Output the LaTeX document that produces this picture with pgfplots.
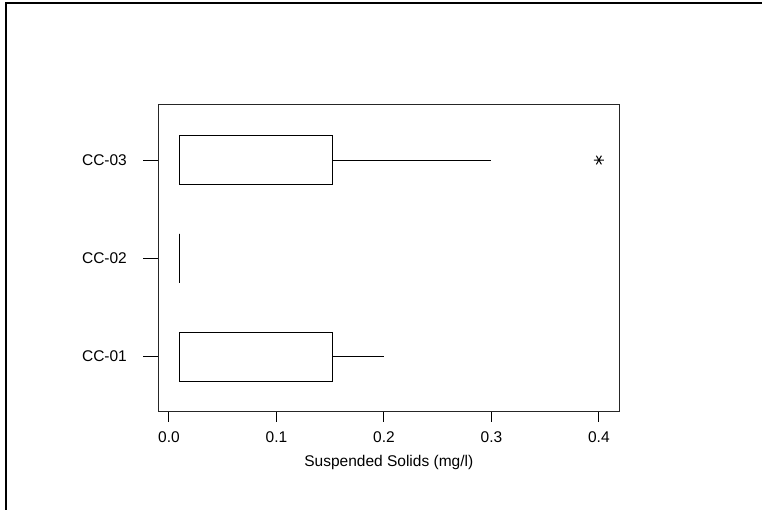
\documentclass[border=0pt]{standalone}
\usepackage{fontspec}
\setmainfont{Liberation Sans}
\usepackage{pgfplots}
\pgfplotsset{compat=1.18}
\usepgfplotslibrary{statistics}
\begin{document}
\fontsize{15bp}{18bp}\selectfont
\begin{tikzpicture}[x=1bp,y=1bp]
\path[use as bounding box] (0,0) rectangle (762,510);
\draw[line width=1.5bp] (6,0) -- (6,507) -- (762,507);
\begin{axis}[
  at={(158.3bp,98.3bp)}, anchor=south west,
  scale only axis, width=461bp, height=306.7bp,
  xmin=-0.00995, xmax=0.419, ymin=0.44, ymax=3.56,
  xtick={0,0.1,0.2,0.3,0.4},
  xticklabels={0.0,0.1,0.2,0.3,0.4},
  ytick={1,2,3}, yticklabels={CC-01,CC-02,CC-03},
  xtick pos=bottom, ytick pos=left,
  tick align=outside,
  xtick style={/pgfplots/major tick length=10bp, black, line width=1bp},
  ytick style={/pgfplots/major tick length=15bp, black, line width=1bp},
  minor tick num=0,
  xlabel={Suspended Solids (mg/l)},
  axis line style={line width=1bp, black!85},
  boxplot/draw direction=x,
  tick label style={font=\fontsize{15.5bp}{18bp}\selectfont},
  yticklabel style={xshift=-22bp},
  xticklabel style={yshift=-11bp},
  label style={font=\fontsize{15.5bp}{18bp}\selectfont},
  xlabel style={yshift=-2bp},
]
\addplot[black, line width=1bp, boxplot prepared={draw position=1, lower whisker=0.01, lower quartile=0.01, median=0.01, upper quartile=0.152, upper whisker=0.2, box extend=0.5, whisker extend=0}] coordinates {};
\addplot[black, line width=1.5bp, boxplot prepared={draw position=2, lower whisker=0.01, lower quartile=0.01, median=0.01, upper quartile=0.01, upper whisker=0.01, box extend=0.5, whisker extend=0}] coordinates {};
\addplot[black, line width=1bp, boxplot prepared={draw position=3, lower whisker=0.01, lower quartile=0.01, median=0.01, upper quartile=0.152, upper whisker=0.3, box extend=0.5, whisker extend=0}] coordinates {};
\addplot[only marks, black, mark=asterisk, mark size=5bp, mark options={rotate=90, line width=1bp}] coordinates {(0.4,3)};
\end{axis}
\end{tikzpicture}
\end{document}
